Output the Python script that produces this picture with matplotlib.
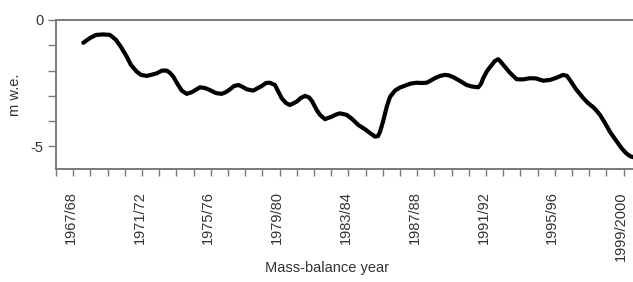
import numpy as np
import matplotlib.pyplot as plt

plt.rcParams['font.family'] = ['Liberation Sans', 'DejaVu Sans']

# mass-balance curve (x: year position, y: m w.e.)
year = [1968.59, 1968.98, 1969.33, 1969.75, 1970.14, 1970.49, 1970.78, 1971.11,
        1971.36, 1971.69, 1971.94, 1972.27, 1972.52, 1972.85, 1973.16, 1973.44,
        1973.63, 1973.82, 1974.03, 1974.31, 1974.60, 1974.91, 1975.37, 1975.66,
        1975.95, 1976.30, 1976.63, 1976.88, 1977.12, 1977.35, 1977.60, 1977.81,
        1978.09, 1978.47, 1978.74, 1978.96, 1979.21, 1979.44, 1979.73, 1979.91,
        1980.12, 1980.37, 1980.60, 1980.99, 1981.24, 1981.48, 1981.71, 1981.88,
        1982.16, 1982.35, 1982.64, 1983.03, 1983.28, 1983.51, 1983.90, 1984.21,
        1984.58, 1984.97, 1985.26, 1985.55, 1985.72, 1985.84, 1986.01, 1986.23,
        1986.42, 1986.71, 1987.00, 1987.39, 1987.64, 1987.97, 1988.22, 1988.55,
        1988.80, 1989.03, 1989.33, 1989.62, 1989.85, 1990.10, 1990.49, 1990.88,
        1991.19, 1991.55, 1991.71, 1991.84, 1992.06, 1992.33, 1992.52, 1992.72,
        1992.87, 1993.10, 1993.40, 1993.78, 1994.15, 1994.56, 1994.91, 1995.33,
        1995.72, 1996.07, 1996.49, 1996.71, 1996.88, 1997.23, 1997.66, 1997.93,
        1998.24, 1998.45, 1998.63, 1998.92, 1999.21, 1999.56, 1999.89, 2000.14,
        2000.37, 2000.60]
mwe = [-0.90, -0.71, -0.59, -0.57, -0.59, -0.79, -1.07, -1.45,
       -1.78, -2.04, -2.17, -2.21, -2.17, -2.11, -2.00, -2.00,
       -2.09, -2.24, -2.49, -2.79, -2.92, -2.85, -2.66, -2.69,
       -2.77, -2.89, -2.92, -2.85, -2.74, -2.61, -2.57, -2.63,
       -2.74, -2.79, -2.69, -2.61, -2.49, -2.48, -2.57, -2.81,
       -3.09, -3.28, -3.36, -3.23, -3.08, -3.00, -3.06, -3.20,
       -3.56, -3.75, -3.92, -3.82, -3.74, -3.69, -3.75, -3.91,
       -4.15, -4.32, -4.47, -4.61, -4.59, -4.42, -4.03, -3.43,
       -3.04, -2.79, -2.67, -2.57, -2.51, -2.48, -2.49, -2.48,
       -2.39, -2.30, -2.21, -2.17, -2.19, -2.26, -2.41, -2.57,
       -2.63, -2.66, -2.53, -2.30, -2.02, -1.78, -1.62, -1.55,
       -1.66, -1.85, -2.09, -2.34, -2.35, -2.30, -2.31, -2.40,
       -2.37, -2.29, -2.17, -2.21, -2.37, -2.73, -3.09, -3.28,
       -3.45, -3.60, -3.75, -4.07, -4.42, -4.76, -5.07, -5.26,
       -5.38, -5.43]

year_labels = ['1967/68', '1971/72', '1975/76', '1979/80', '1983/84',
               '1987/88', '1991/92', '1995/96', '1999/2000']
label_pos = [1967.85, 1971.85, 1975.85, 1979.85, 1983.85,
             1987.85, 1991.85, 1995.85, 1999.85]

grey = '#7a7a7a'
txt = '#333333'

fig = plt.figure(figsize=(6.33, 2.82), dpi=100)
ax = fig.add_axes([0.0885, 0.4007, 0.9115, 0.5284])

ax.plot(year, mwe, color='black', lw=3.0, solid_joinstyle='round',
        solid_capstyle='round')

ax.set_xlim(1967, 2000.55)
ax.set_ylim(-5.89, 0)

for s in ['left', 'bottom', 'top']:
    ax.spines[s].set_color(grey)
    ax.spines[s].set_linewidth(1.4)
ax.spines['right'].set_visible(False)

ax.set_xticks(np.arange(1967, 2001))
ax.set_xticklabels([])
ax.tick_params(axis='x', which='major', direction='out', length=5,
               width=1, color=grey)
ax.set_xticks(label_pos, minor=True)
ax.set_xticklabels(year_labels, minor=True, rotation=90, fontsize=10.5,
                   color=txt)
ax.tick_params(axis='x', which='minor', length=0, pad=16)

ax.set_yticks([0, -1, -2, -3, -4, -5])
ax.set_yticklabels(['0', '', '', '', '', '-5'], fontsize=10.5, color=txt)
ax.tick_params(axis='y', direction='out', length=6, width=1, color=grey,
               pad=3)

ax.set_ylabel('m w.e.', fontsize=10.5, color=txt, labelpad=6)
fig.text(0.517, 0.05, 'Mass-balance year', ha='center', va='center',
         fontsize=10.5, color=txt)

fig.savefig('out.png', dpi=100)
